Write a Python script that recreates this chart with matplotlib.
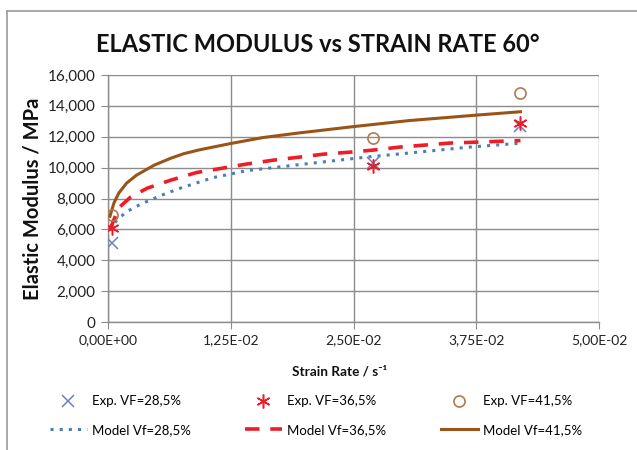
import matplotlib
matplotlib.use("Agg")
import matplotlib.pyplot as plt
from matplotlib.lines import Line2D
from matplotlib.ticker import FixedLocator, FuncFormatter

plt.rcParams['font.family'] = ['Lato', 'DejaVu Sans']

# Experimental data
exp_rate = [0.0004, 0.0270, 0.0420]
exp_vf285 = [5100, 10300, 12700]
exp_vf365 = [6100, 10100, 12900]
exp_vf415 = [6900, 11950, 14820]

# Model curves
mod285_rate = [0.0002, 0.0009, 0.0019, 0.0034, 0.0054, 0.0075, 0.0107, 0.0141,
               0.0175, 0.0226, 0.0266, 0.0307, 0.0368, 0.0420]
mod285_val = [5950, 6600, 7150, 7650, 8200, 8700, 9350, 9800,
              10050, 10420, 10700, 10950, 11330, 11580]

mod365_rate = [0.0002, 0.0011, 0.0023, 0.0040, 0.0064, 0.0090, 0.0117, 0.0141,
               0.0168, 0.0195, 0.0219, 0.0246, 0.0269, 0.0297, 0.0348, 0.0401, 0.0420]
mod365_val = [6000, 7400, 8090, 8670, 9190, 9680, 9970, 10230,
              10480, 10680, 10870, 11000, 11130, 11330, 11590, 11710, 11750]

mod415_rate = [0.0002, 0.0006, 0.0011, 0.0019, 0.0029, 0.0047, 0.0064, 0.0077,
               0.0093, 0.0124, 0.0158, 0.0195, 0.0249, 0.0307, 0.0375, 0.0420]
mod415_val = [6850, 7700, 8350, 9000, 9510, 10160, 10610, 10900,
              11150, 11550, 11950, 12250, 12650, 13050, 13400, 13620]

x_ticks = [0.0, 0.0125, 0.025, 0.0375, 0.05]
x_tick_labels = ["0,00E+00", "1,25E-02", "2,50E-02", "3,75E-02", "5,00E-02"]
y_ticks = list(range(0, 16001, 2000))

W, H = 637, 450
fig = plt.figure(figsize=(W / 100, H / 100), dpi=100)
ax = fig.add_axes([108 / W, 1 - 322 / H, (599 - 108) / W, (322 - 75) / H])

c_blue_m = "#6f7fbf"
c_blue_l = "#4a7ebb"
c_red = "#ee1c25"
c_brown_l = "#9a5417"
c_brown_m = "#b07a50"

h1, = ax.plot(exp_rate, exp_vf285, linestyle='none', marker='x', markersize=9,
              markeredgewidth=1.1, color=c_blue_m, label="Exp. VF=28,5%", zorder=5)
h2, = ax.plot(exp_rate, exp_vf365, linestyle='none', marker=(6, 2, 0), markersize=10,
              markeredgewidth=1.1, color=c_red, label="Exp. VF=36,5%", zorder=5)
h3, = ax.plot(exp_rate, exp_vf415, linestyle='none', marker='o', markersize=8,
              markerfacecolor='none', markeredgewidth=1.2, color=c_brown_m,
              label="Exp. VF=41,5%", zorder=5)

h4, = ax.plot(mod285_rate, mod285_val, linestyle=(0, (1, 2)), linewidth=2.2,
              color=c_blue_l, label="Model Vf=28,5%", zorder=4)
h5, = ax.plot(mod365_rate, mod365_val, linestyle=(0, (4, 3)), linewidth=2.6,
              color=c_red, label="Model Vf=36,5%", zorder=4)
h6, = ax.plot(mod415_rate, mod415_val, linestyle='-', linewidth=2.2,
              color=c_brown_l, label="Model Vf=41,5%", zorder=4)

ax.set_xlim(0, 0.05)
ax.set_ylim(0, 16000)
ax.xaxis.set_major_locator(FixedLocator(x_ticks))
ax.set_xticklabels(x_tick_labels)
ax.yaxis.set_major_locator(FixedLocator(y_ticks))
ax.yaxis.set_major_formatter(FuncFormatter(lambda v, p: f"{int(v):,}"))

ax.grid(True, color="#8c8c8c", linewidth=1.0)
ax.set_axisbelow(True)
for side in ['top', 'right']:
    ax.spines[side].set_visible(False)
for side in ['left', 'bottom']:
    ax.spines[side].set_color("#8c8c8c")
    ax.spines[side].set_linewidth(1.0)
ax.tick_params(axis='both', direction='out', length=5, color="#8c8c8c",
               labelcolor="#222222", pad=4)
ax.tick_params(axis='x', labelsize=10)
ax.tick_params(axis='y', labelsize=11)

ax.set_xlabel("Strain Rate / s⁻¹", fontsize=9.8, fontweight='bold',
              labelpad=8, color="#111111")
ax.xaxis.set_label_coords((340 - 108) / (599 - 108), -0.175)
ax.set_ylabel("Elastic Modulus / MPa", fontsize=14.5, fontweight='bold',
              labelpad=4, color="#111111")

fig.text(318 / W, 1 - 45 / H, "ELASTIC MODULUS vs STRAIN RATE 60°",
         ha='center', va='center', fontsize=17, fontweight='bold', color="#111111")

# legend: three columns, each with an experimental and a model entry
col_left = [50, 245, 441]
col_handles = [(h1, h4), (h2, h5), (h3, h6)]
for xl, hs in zip(col_left, col_handles):
    leg = fig.legend(list(hs), [h.get_label() for h in hs], loc='center left',
                     bbox_to_anchor=(xl / W, 1 - 415.5 / H), frameon=False,
                     fontsize=9.5, handlelength=2.8, handletextpad=0.35,
                     labelspacing=1.25, borderpad=0, borderaxespad=0)

# chart frame
fig.add_artist(Line2D([7 / W, 7 / W], [0, 1 - 11 / H], transform=fig.transFigure,
                      color="#9a9a9a", linewidth=1.2))
fig.add_artist(Line2D([7 / W, 1], [1 - 11 / H, 1 - 11 / H], transform=fig.transFigure,
                      color="#9a9a9a", linewidth=1.2))

fig.savefig("out.png", dpi=100)
